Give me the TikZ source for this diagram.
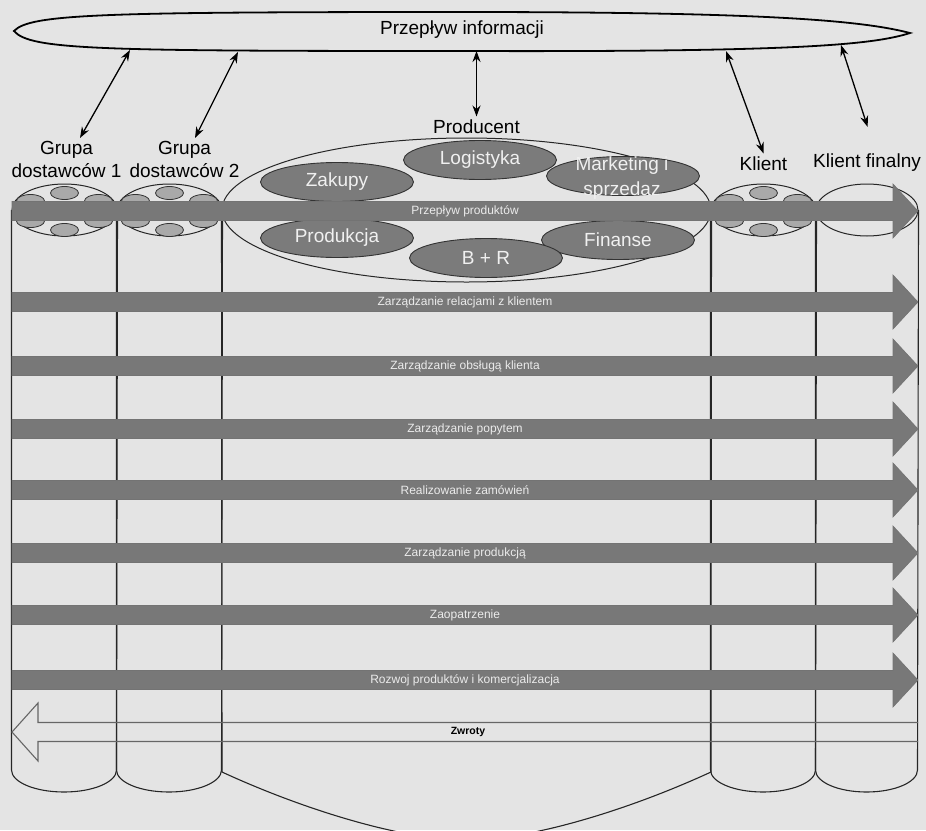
\documentclass[tikz,border=0pt]{standalone}
\usepackage{fontspec}
\setmainfont{Liberation Sans}
\usetikzlibrary{arrows.meta,positioning,shapes.geometric}

\definecolor{paper}{HTML}{E4E4E4}
\definecolor{barfill}{HTML}{787878}
\definecolor{deptfill}{HTML}{7B7B7B}
\definecolor{cellfill}{HTML}{A9A9A9}

\begin{document}
\begin{tikzpicture}[x=1pt, y=-1pt,
    big/.style={font=\fontsize{19}{23}\selectfont, align=center},
    lens/.style={draw=black, line width=1.8pt},
    member/.style={ellipse, draw=black!85, line width=1pt, minimum width=105, minimum height=52, inner sep=0pt},
    cell/.style={ellipse, draw=black!80, fill=cellfill, line width=0.8pt, minimum width=28, minimum height=13, inner sep=0pt},
    dept/.style={ellipse, draw=black!80, fill=deptfill, line width=0.9pt, minimum width=153, minimum height=39, inner sep=0pt, text=white!94!black, font=\fontsize{19}{24}\selectfont, align=center},
    col/.style={draw=black!85, line width=1.1pt},
    bar/.style={fill=barfill, draw=black!55, line width=0.6pt},
    flowtext/.style={text=white!92!black, font=\fontsize{12}{14}\selectfont, inner sep=1pt},
    ret/.style={draw=black!60, line width=1.1pt},
    dbl/.style={{Stealth[length=11pt,width=8pt]}-{Stealth[length=11pt,width=8pt]}, line width=1.3pt}
]
\useasboundingbox (0,0) rectangle (926,830);
\clip (0,0) rectangle (926,830);
\fill[paper] (0,0) rectangle (926,830);

% members of the chain
\node[member] (s1) at (64.5,210) {};
\node[member] (s2) at (169.5,210) {};
\node[member, minimum width=489, minimum height=144] (prod) at (466.5,210) {};
\node[member] (kl) at (763.5,210) {};
\node[member, minimum width=102] (kf) at (867,210) {};

% columns
\draw[col] (s1.west) -- ++(0,560) arc[start angle=180, end angle=0, x radius=52.5, y radius=22] -- (s1.east);
\draw[col] (s2.west) -- ++(0,560) arc[start angle=180, end angle=0, x radius=52.5, y radius=22] -- (s2.east);
\draw[col] (prod.west) -- (222,772) .. controls (300,808) and (400,840) .. (466.5,840)
    .. controls (533,840) and (633,808) .. (711,772) -- (prod.east);
\draw[col] (kl.west) -- ++(0,560) arc[start angle=180, end angle=0, x radius=52.5, y radius=22] -- (kl.east);
\draw[col] (kf.west) -- ++(0,560) arc[start angle=180, end angle=0, x radius=51, y radius=22] -- (kf.east);

% small cells inside suppliers and client
\foreach \grp in {s1,s2,kl} {
  \foreach \dx/\dy [count=\k] in {0/-17, -34/-9, 34/-9, -34/11, 34/11, 0/20}
    \node[cell] (\grp-\k) at ([shift={(\dx,\dy)}]\grp.center) {};
}

% producer departments
\node[dept] (zak) at (337,182) {Zakupy};
\node[dept] (log) at (480,160) {Logistyka};
\node[dept] (mkt) at (623,176) {};
\node[text=white!94!black, font=\fontsize{19}{25}\selectfont, align=center] (mkttxt) at (622,178) {Marketing i\\sprzedaz};
\node[dept] (pro) at (337,238) {Produkcja};
\node[dept] (fin) at (618,240) {Finanse};
\node[dept] (bir) at (486,258) {B + R};

% process flows
\foreach \yy/\txt [count=\i] in {211/Przepływ produktów, 302/Zarządzanie relacjami z klientem,
    366/Zarządzanie obsługą klienta, 429/Zarządzanie popytem, 490/Realizowanie zamówień,
    553/Zarządzanie produkcją, 615/Zaopatrzenie, 680/Rozwoj produktów i komercjalizacja} {
  \draw[bar] (12,\yy-9.5) -- (893,\yy-9.5) -- (893,\yy-27) -- (918,\yy)
    -- (893,\yy+27) -- (893,\yy+9.5) -- (12,\yy+9.5) -- cycle;
  \node[flowtext] (flow\i) at (465,\yy) {\txt};
}

% returns
\draw[ret] (918,722.5) -- (38,722.5) -- (38,703) -- (12,732) -- (38,761) -- (38,741.5) -- (918,741.5);
\node[font=\bfseries\fontsize{10.5}{12}\selectfont, inner sep=1pt] (zwroty) at (468,732) {Zwroty};

% information flow
\node[font=\fontsize{19}{23}\selectfont] (flowinfo) at (462,30) {Przepływ informacji};
\draw[lens] (14,31) .. controls (30,14) and (100,12) .. (462,12)
    .. controls (760,12) and (860,20) .. (910,33)
    .. controls (870,46) and (780,52) .. (462,51)
    .. controls (100,51) and (30,50) .. (14,31) -- cycle;
\coordinate (inf1) at (130,50);
\coordinate (inf2) at (238,52);
\coordinate (inf3) at (476,51);
\coordinate (inf4) at (726,51);
\coordinate (inf5) at (841,45);

\node[big, above=2pt of s1, xshift=2pt] (grp1) {Grupa\\dostawców 1};
\node[big, above=2pt of s2, xshift=15pt] (grp2) {Grupa\\dostawców 2};
\node[big, above=0pt of prod, xshift=10pt] (producer) {Producent};
\node[big, above=9pt of kl] (client) {Klient};
\node[big, above=9pt of kf] (endclient) {Klient finalny};

\draw[dbl] (inf1) -- ([xshift=13.5pt]grp1.north);
\draw[dbl] (inf2) -- ([xshift=10.5pt]grp2.north);
\draw[dbl] (inf3 -| producer.north) -- (producer.north);
\draw[dbl] (inf4) -- (client.north);
\draw[dbl, shorten >=24pt] (inf5) -- ([xshift=8pt]endclient.north);
\end{tikzpicture}
\end{document}
